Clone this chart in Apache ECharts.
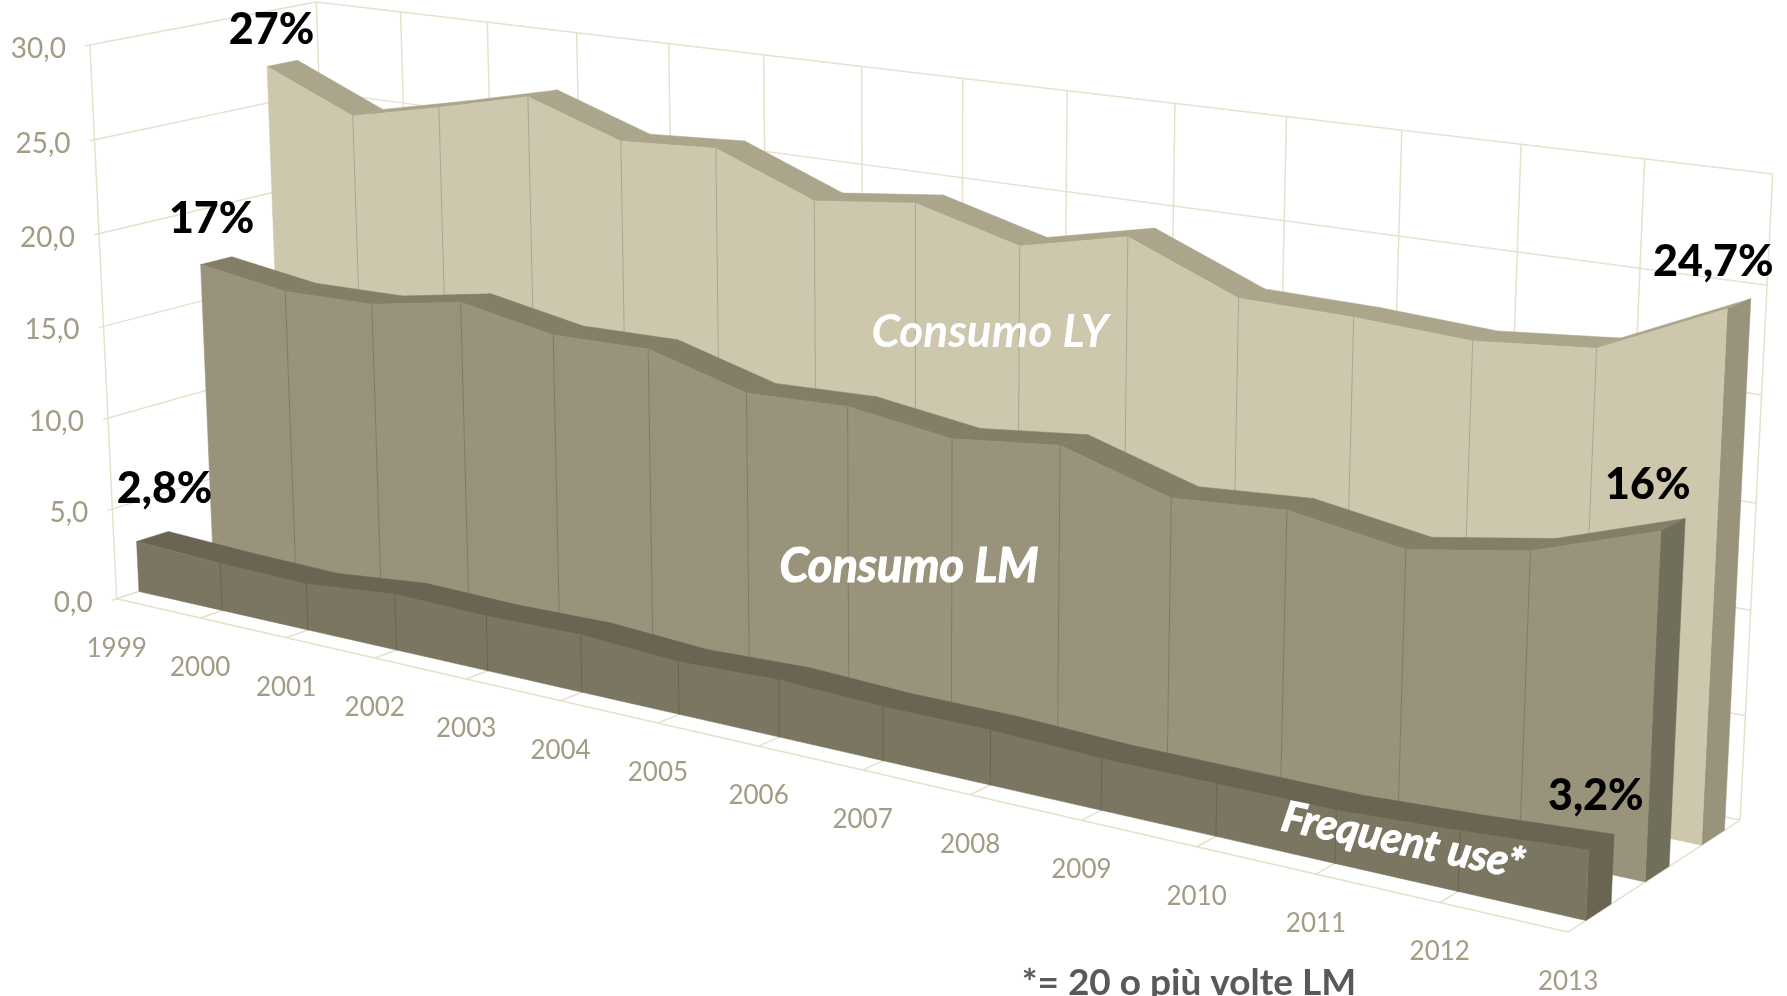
<!DOCTYPE html><html><head><meta charset="utf-8"><style>html,body{margin:0;background:#fff;overflow:hidden}#c{width:1787px;height:996px;filter:blur(0.45px)}</style></head><body><div id="c"></div>
<script src="https://cdn.jsdelivr.net/npm/echarts@6/dist/echarts.min.js"></script>
<script>
const years=['1999','2000','2001','2002','2003','2004','2005','2006','2007','2008','2009','2010','2011','2012','2013'];
const yTicks=[0,5,10,15,20,25,30];
const yTickLabels=['0,0','5,0','10,0','15,0','20,0','25,0','30,0'];
const consumoLY=[27,24.9,26.0,27.2,25.5,25.8,23.8,24.4,23.0,24.2,22.0,21.9,21.6,22.1,24.7];
const consumoLM=[17,16.3,16.4,17.3,16.4,16.5,15.1,15.3,14.6,15.2,13.6,14.0,13.15,14.1,16];
const frequentUse=[2.8,2.6,2.5,3.0,2.9,3.0,2.7,2.9,2.7,2.7,2.5,2.5,2.5,2.8,3.2];
const labelsLY=['27%','24,7%'], labelsLM=['17%','16%'], labelsFU=['2,8%','3,2%'];
const nameLY='Consumo LY', nameLM='Consumo LM', nameFU='Frequent use*';
const footnote='*= 20 o più volte LM';

// Camera of the 3D box: (category index, value, depth 0..1) -> page pixels
const CAM=[[80.4791,-0.9893288,237.4156,116.6888],[10.01983,-18.51286,-41.24141,598.7878],[-0.01479098,-0.001079799,0.0580632,1]];
const GW=1400,GH=600,IMAX=years.length-1,VMAX=30;
function project(api,cat,val,z){
  const c=api.coord([cat,val]);
  const x=c[0]/GW*IMAX, y=(GH-c[1])/GH*VMAX;
  const w=CAM[2][0]*x+CAM[2][1]*y+CAM[2][2]*z+1;
  return [(CAM[0][0]*x+CAM[0][1]*y+CAM[0][2]*z+CAM[0][3])/w,(CAM[1][0]*x+CAM[1][1]*y+CAM[1][2]*z+CAM[1][3])/w];
}
const line=(a,b,stroke,lineWidth,z2)=>({type:'line',silent:true,z2:z2||0,shape:{x1:a[0],y1:a[1],x2:b[0],y2:b[1]},style:{stroke,lineWidth,fill:null}});
const poly=(pts,fill,z2)=>({type:'polygon',silent:true,z2,shape:{points:pts},style:{fill,stroke:fill,lineWidth:0.5}});
const GRID='#e6e0cc', TICK='#a39c84';
const yearFont='400 26px Lato', valueFont='400 28px Lato', dataFont='900 43px Lato';

function renderFrame(params,api){
  const ch=[];
  const last=IMAX;
  yTicks.forEach(v=>{
    ch.push(line(project(api,0,v,-0.02),project(api,0,v,1),GRID,1.5));
    ch.push(line(project(api,0,v,1),project(api,last,v,1),GRID,1.5));
  });
  years.forEach((y,i)=>{
    ch.push(line(project(api,i,0,1),project(api,i,VMAX,1),GRID,1.5));
    ch.push(line(project(api,i,0,0),project(api,i,0,1),GRID,1.5));
  });
  ch.push(line(project(api,0,0,0),project(api,0,VMAX,0),GRID,1.5));
  ch.push(line(project(api,0,0,0),project(api,last,0,0),GRID,1.5));
  return {type:'group',children:ch};
}
function slab(values,z0,z1,cFace,cTop,cSide,cDiv){
  return function(params,api){
    const i=api.value(0), v=api.value(1);
    const ch=[];
    const f=project(api,i,v,z0), fb=project(api,i,0,z0), b=project(api,i,v,z1), bb=project(api,i,0,z1);
    if(i<IMAX){
      const n=values[i+1];
      const f2=project(api,i+1,n,z0), fb2=project(api,i+1,0,z0), b2=project(api,i+1,n,z1);
      ch.push(poly([f,b,b2,f2],cTop,1));
      ch.push(poly([f,f2,fb2,fb],cFace,3));
    } else {
      ch.push(poly([f,b,bb,fb],cSide,2));
    }
    if(i>0&&i<IMAX) ch.push(line(f,fb,cDiv,1,4));
    return {type:'group',children:ch};
  };
}
function dataLabels(params,api){
  const put=(txt,p,dx,dy)=>({type:'text',silent:true,style:{text:txt,x:p[0]+dx,y:p[1]+dy,fill:'#000',font:dataFont,align:'center',verticalAlign:'middle'}});
  const ch=[
    put(labelsLY[0],project(api,0,consumoLY[0],.763),4.5,-36),
    put(labelsLY[1],project(api,IMAX,consumoLY[IMAX],.763),-14,-47),
    put(labelsLM[0],project(api,0,consumoLM[0],.43),11,-45),
    put(labelsLM[1],project(api,IMAX,consumoLM[IMAX],.43),-13,-46),
    put(labelsFU[0],project(api,0,frequentUse[0],.097),28,-52),
    put(labelsFU[1],project(api,IMAX,frequentUse[IMAX],.097),7,-54)
  ];
  years.forEach((y,i)=>{const p=project(api,i,0,0);
    ch.push({type:'text',silent:true,style:{text:y,x:p[0],y:p[1]+49.5,fill:TICK,font:yearFont,align:'center',verticalAlign:'middle'}});});
  yTicks.forEach((v,i)=>{const p=project(api,0,v,0);
    ch.push({type:'text',silent:true,style:{text:yTickLabels[i],x:p[0]-24,y:p[1]+4,fill:TICK,font:valueFont,align:'right',verticalAlign:'middle'}});});
  ch.push({type:'text',silent:true,style:{text:nameLY,x:990,y:332,fill:'#fff',font:'italic 700 46px Lato',align:'center',verticalAlign:'middle'}});
  ch.push({type:'text',silent:true,style:{text:nameLM,x:909,y:567,fill:'#fff',stroke:'#fff',lineWidth:1.2,font:'italic 700 47px Lato',align:'center',verticalAlign:'middle'}});
  ch.push({type:'text',silent:true,x:1403,y:841,rotation:-0.2,style:{text:nameFU,x:0,y:0,fill:'#fff',stroke:'#fff',lineWidth:1.2,font:'italic 700 42.5px Lato',align:'center',verticalAlign:'middle'}});
  ch.push({type:'text',silent:true,style:{text:footnote,x:1189,y:983,fill:'#58595b',font:'bold 37px Lato',align:'center',verticalAlign:'middle'}});
  return {type:'group',children:ch};
}
const toData=a=>a.map((v,i)=>[i,v]);
const chart=echarts.init(document.getElementById('c'),null,{renderer:'canvas'});
chart.setOption({
  animation:false,
  backgroundColor:'#fff',
  grid:{left:0,top:0,width:GW,height:GH,show:false,containLabel:false},
  xAxis:{type:'category',data:years,boundaryGap:false,show:false},
  yAxis:{type:'value',min:0,max:VMAX,interval:5,show:false},
  tooltip:{show:false},
  series:[
    {type:'custom',name:'frame',z:1,clip:false,silent:true,data:[[0,0]],renderItem:renderFrame,encode:{x:0,y:1}},
    {type:'custom',name:nameLY,z:2,clip:false,silent:true,data:toData(consumoLY),encode:{x:0,y:1},renderItem:slab(consumoLY,.763,.903,'#cdc7ad','#aba58c','#98937a','#a9a590')},
    {type:'custom',name:nameLM,z:3,clip:false,silent:true,data:toData(consumoLM),encode:{x:0,y:1},renderItem:slab(consumoLM,.43,.57,'#98937a','#847e68','#716f5c','#7f7b68')},
    {type:'custom',name:nameFU,z:4,clip:false,silent:true,data:toData(frequentUse),encode:{x:0,y:1},renderItem:slab(frequentUse,.097,.237,'#7b7661','#6a6552','#6a6552','#676350')},
    {type:'custom',name:'labels',z:5,clip:false,silent:true,data:[[0,0]],encode:{x:0,y:1},renderItem:dataLabels}
  ]
});
</script></body></html>
